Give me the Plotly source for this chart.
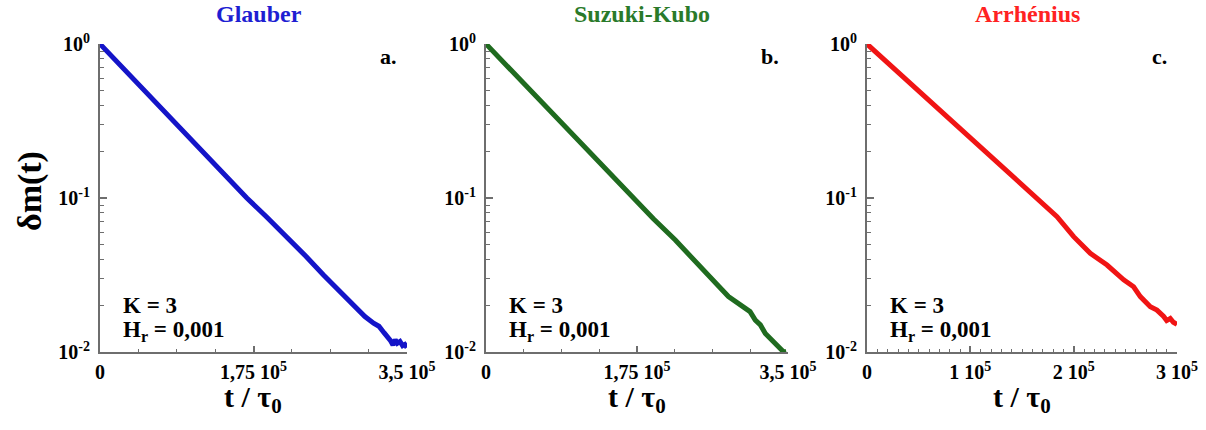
import plotly.graph_objects as go

# --- data (t in units of tau_0, delta m(t)) ---
t_glauber = [0, 20000, 40000, 60000, 80000, 100000, 120000, 140000, 167400, 190000,
             216800, 235000, 254800, 264000, 273900, 283000, 292800, 302000, 311900,
             318000, 324000, 328000, 331000, 334000, 336600, 339000, 342000, 345000,
             347500, 350000]
m_glauber = [1.0, 0.759, 0.577, 0.438, 0.333, 0.253, 0.192, 0.146, 0.100, 0.0752,
             0.0533, 0.0417, 0.0316, 0.0280, 0.0240, 0.0214, 0.0187, 0.0170, 0.0154,
             0.0147, 0.0133, 0.0126, 0.0119, 0.0111, 0.0120, 0.0114, 0.0117, 0.0110,
             0.0112, 0.0107]

t_suzuki = [0, 20000, 40000, 60000, 80000, 100000, 120000, 140000, 169200, 194000,
            219400, 240000, 258000, 270000, 281000, 290000, 296700, 302000, 306000,
            312100, 318000, 323700, 329000, 335300, 341000, 345000, 348000]
m_suzuki = [1.0, 0.762, 0.580, 0.442, 0.337, 0.256, 0.195, 0.149, 0.100, 0.0733,
            0.0533, 0.0398, 0.0308, 0.0266, 0.0229, 0.0210, 0.0196, 0.0186, 0.0183,
            0.0161, 0.0150, 0.0132, 0.0123, 0.0111, 0.0103, 0.0100, 0.0101]

t_arrhenius = [0, 20000, 40000, 60000, 80000, 100000, 119300, 140000, 151600, 183900,
               200000, 216100, 232300, 248400, 258000, 264500, 274200, 280600, 287100,
               290000, 293500, 296500, 300000]
m_arrhenius = [1.0, 0.754, 0.568, 0.428, 0.323, 0.243, 0.185, 0.138, 0.118, 0.0756,
               0.0561, 0.0437, 0.0367, 0.0294, 0.0265, 0.0229, 0.0197, 0.0187, 0.0170,
               0.0160, 0.0165, 0.0156, 0.0151]

panel_names = ["Glauber", "Suzuki-Kubo", "Arrhénius"]
panel_tags = ["a.", "b.", "c."]
panel_colors = ["#1414c8", "#1f6b1f", "#f01414"]
title_colors = ["#1e1ed2", "#2a7a2a", "#ff2222"]

x_ranges = [[0, 350000], [0, 350000], [0, 300000]]
x_tickvals = [[0, 175000, 350000], [0, 175000, 350000], [0, 100000, 200000, 300000]]
x_ticktext = [["0", "1,75 10<sup>5</sup>", "3,5 10<sup>5</sup>"],
              ["0", "1,75 10<sup>5</sup>", "3,5 10<sup>5</sup>"],
              ["0", "1 10<sup>5</sup>", "2 10<sup>5</sup>", "3 10<sup>5</sup>"]]
x_minor = [43750, 43750, 10000]

y_tickvals = [1, 0.1, 0.01]
y_ticktext = ["10<sup>0</sup>", "10<sup>-1</sup>", "10<sup>-2</sup>"]
y_minor = [v * m for v in (0.01, 0.1) for m in range(2, 10)]

W, H = 1206, 430
FONT = "Liberation Serif, Times New Roman, serif"
AX = "#6e6e6e"

# panel pixel extents (left, right), plot area top/bottom
px_domains = [(100, 407), (486, 788), (867, 1177)]
top_px, bot_px = 44, 352

fig = go.Figure()
series = [(t_glauber, m_glauber), (t_suzuki, m_suzuki), (t_arrhenius, m_arrhenius)]


def bold(size, color="black"):
    return dict(family=FONT, size=size, color=color, weight="bold")


for i, (t, m) in enumerate(series):
    n = "" if i == 0 else str(i + 1)
    fig.add_trace(go.Scatter(x=t, y=m, mode="lines", xaxis="x" + n, yaxis="y" + n,
                             line=dict(color=panel_colors[i], width=5),
                             showlegend=False))
    l, r = px_domains[i]
    fig.update_layout({
        "xaxis" + n: dict(
            domain=[l / W, r / W], anchor="y" + n, range=x_ranges[i], automargin=False,
            showgrid=False, zeroline=False, showline=True, linecolor=AX, linewidth=2,
            tickmode="array", tickvals=x_tickvals[i], ticktext=x_ticktext[i],
            ticks="inside", ticklen=6, tickwidth=1.5, tickcolor=AX,
            tickfont=bold(20), ticklabelstandoff=1,
            minor=dict(dtick=x_minor[i], ticks="inside", ticklen=3, tickcolor=AX, tickwidth=1),
        ),
        "yaxis" + n: dict(
            domain=[1 - bot_px / H, 1 - top_px / H], anchor="x" + n, type="log",
            range=[-2, 0], automargin=False, showgrid=False, zeroline=False, showline=True,
            linecolor=AX, linewidth=2, tickmode="array", tickvals=y_tickvals,
            ticktext=y_ticktext, ticks="inside", ticklen=7, tickwidth=1.5, tickcolor=AX,
            tickfont=bold(20), ticklabelstandoff=4,
            minor=dict(tickmode="array", tickvals=y_minor, ticks="inside", ticklen=4,
                       tickcolor=AX, tickwidth=1),
        ),
    })

    cx = (l + r) / 2
    fig.add_annotation(x=(cx + 5) / W, y=1 - 14 / H, xref="paper", yref="paper",
                       text=panel_names[i], showarrow=False, xanchor="center", yanchor="middle",
                       font=bold(24, title_colors[i]))
    fig.add_annotation(x=(r - 18) / W, y=1 - 57 / H, xref="paper", yref="paper",
                       text=panel_tags[i], showarrow=False, xanchor="center", yanchor="middle",
                       font=bold(22))
    fig.add_annotation(x=(l + 21) / W, y=1 - 305 / H, xref="paper", yref="paper",
                       text="K = 3", showarrow=False, xanchor="left", yanchor="middle",
                       font=bold(23))
    fig.add_annotation(x=(l + 21) / W, y=1 - 331 / H, xref="paper", yref="paper",
                       text="H<sub>r</sub> = 0,001", showarrow=False, xanchor="left",
                       yanchor="middle", font=bold(23))
    fig.add_annotation(x=cx / W, y=1 - 399 / H, xref="paper", yref="paper",
                       text="t / τ<sub>0</sub>", showarrow=False, xanchor="center",
                       yanchor="middle", font=bold(30))

fig.add_annotation(x=30 / W, y=1 - 191 / H, xref="paper", yref="paper", text="δm(t)",
                   textangle=-90, showarrow=False, xanchor="center", yanchor="middle",
                   font=bold(34))

fig.update_layout(width=W, height=H, margin=dict(l=0, r=0, t=0, b=0),
                  template="none", plot_bgcolor="white", paper_bgcolor="white")

# the page's default body margin would shift the whole figure by 8 px
fig.write_html("out.html", config={"displayModeBar": False},
               post_script="document.body.style.margin='0';")
